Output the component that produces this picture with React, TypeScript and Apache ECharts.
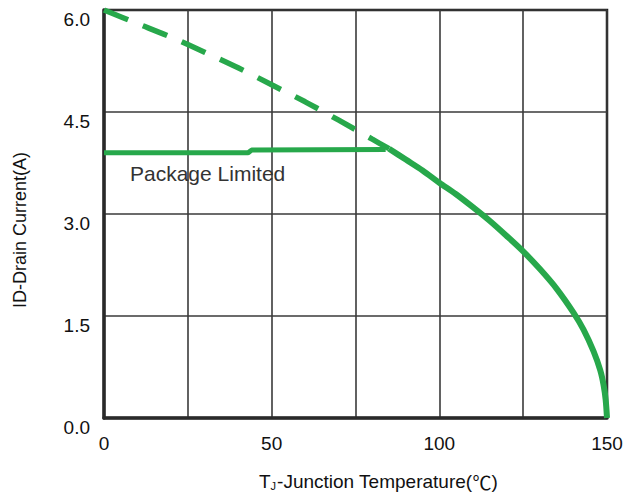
import React, { useEffect, useRef } from "react";
import * as echarts from "echarts";

const xTicks = [0, 50, 100, 150];
const yTicks = [0.0, 1.5, 3.0, 4.5, 6.0];

const dashedT = [0, 10, 20, 30, 40, 50, 60, 70, 80, 85];
const dashedI = [6.0, 5.8, 5.6, 5.38, 5.15, 4.9, 4.65, 4.38, 4.1, 3.96];

const curveT = [85, 90, 95, 100, 105, 110, 115, 120, 125, 130, 135, 140, 143, 146, 148, 149, 149.6, 150];
const curveI = [3.96, 3.8, 3.64, 3.46, 3.29, 3.1, 2.9, 2.68, 2.45, 2.19, 1.9, 1.55, 1.3, 0.98, 0.7, 0.48, 0.27, 0];

const pkgT = [0, 43, 44, 84];
const pkgI = [3.9, 3.9, 3.94, 3.95];

const green = "#27a84b";
const font = "'Liberation Sans', Arial, sans-serif";

function zip(a: number[], b: number[]) {
  return a.map((v, i) => [v, b[i]]);
}

export default function App() {
  const ref = useRef<HTMLDivElement>(null);
  useEffect(() => {
    if (!ref.current) return;
    const chart = echarts.init(ref.current, undefined, { renderer: "svg" });
    chart.setOption({
      animation: false,
      backgroundColor: "#ffffff",
      grid: {
        left: 104,
        right: 28,
        top: 10,
        bottom: 79,
        show: true,
        borderColor: "#1a1a1a",
        borderWidth: 2.5,
        backgroundColor: "transparent",
      },
      xAxis: {
        type: "value",
        min: 0,
        max: 150,
        interval: 25,
        axisLine: { show: true, lineStyle: { color: "#2a2a2a", width: 3.5 } },
        axisTick: { show: false },
        splitLine: { show: true, lineStyle: { color: "#3a3a3a", width: 1.6 } },
        axisLabel: {
          margin: 16,
          fontFamily: font,
          fontSize: 19,
          color: "#111",
          formatter: (v: number) => (xTicks.includes(v) ? String(v) : ""),
        },
      },
      yAxis: {
        type: "value",
        min: 0,
        max: 6,
        interval: 1.5,
        axisLine: { show: true, lineStyle: { color: "#2a2a2a", width: 3.5 } },
        axisTick: { show: false },
        splitLine: { show: true, lineStyle: { color: "#3a3a3a", width: 1.6 } },
        axisLabel: {
          margin: 14,
          fontFamily: font,
          fontSize: 19,
          color: "#111",
          verticalAlign: "top",
          formatter: (v: number) => {
            const t = yTicks.find((y) => Math.abs(y - v) < 1e-6);
            return t === undefined ? "" : t.toFixed(1);
          },
        },
      },
      series: [
        {
          type: "line",
          data: zip(dashedT, dashedI),
          showSymbol: false,
          smooth: 0.3,
          lineStyle: { color: green, width: 5.5, type: [26, 16], cap: "butt" },
          z: 3,
        },
        {
          type: "line",
          data: zip(curveT, curveI),
          showSymbol: false,
          smooth: 0.3,
          lineStyle: { color: green, width: 6 },
          z: 4,
        },
        {
          type: "line",
          data: zip(pkgT, pkgI),
          showSymbol: false,
          lineStyle: { color: green, width: 5 },
          z: 4,
        },
      ],
      graphic: [
        {
          type: "text",
          left: 130,
          top: 163,
          style: {
            text: "Package Limited",
            fontFamily: font,
            fontSize: 21,
            fill: "#333",
          },
          z: 10,
        },
        {
          type: "text",
          x: 20,
          y: 230,
          rotation: Math.PI / 2,
          style: {
            text: "ID-Drain Current(A)",
            fontFamily: font,
            fontSize: 18,
            fill: "#111",
            align: "center",
            verticalAlign: "middle",
          },
        },
        {
          type: "text",
          x: 259,
          y: 481,
          style: {
            text: "{a|T}{s|J}{a|-Junction Temperature(}{c|℃}{a|)}",
            fontFamily: font,
            fontSize: 19,
            fill: "#111",
            align: "left",
            verticalAlign: "middle",
            rich: {
              a: { fontFamily: font, fontSize: 19, fill: "#111" },
              s: { fontFamily: font, fontSize: 11, fill: "#111", padding: [9, 1, 0, 0] },
              c: { fontFamily: "'Noto Sans CJK SC', sans-serif", fontSize: 19, fill: "#111" },
            },
          },
        },
      ],
    });
    return () => chart.dispose();
  }, []);
  return <div ref={ref} style={{ width: 635, height: 497, position: "absolute", left: 0, top: 0 }} />;
}
